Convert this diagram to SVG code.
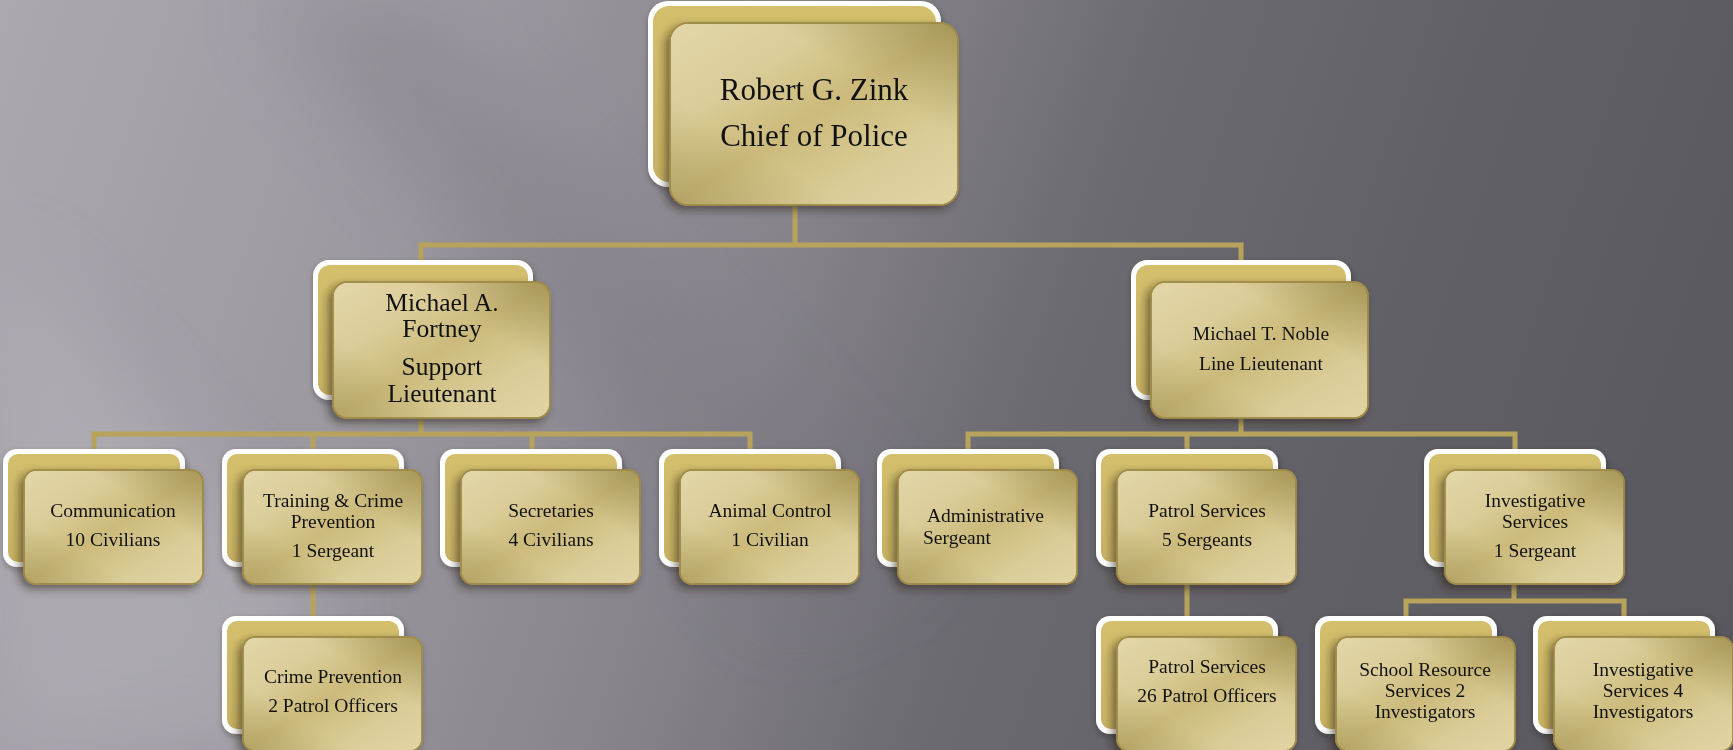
<svg xmlns="http://www.w3.org/2000/svg" width="1733" height="750" viewBox="0 0 1733 750">
<defs>
  <linearGradient id="bgG" x1="0" y1="0" x2="1733" y2="600" gradientUnits="userSpaceOnUse">
    <stop offset="0" stop-color="#aba8af"/>
    <stop offset="0.25" stop-color="#9b98a0"/>
    <stop offset="0.45" stop-color="#86838b"/>
    <stop offset="0.6" stop-color="#6d6b72"/>
    <stop offset="0.8" stop-color="#615f66"/>
    <stop offset="1" stop-color="#5a585f"/>
  </linearGradient>
  <linearGradient id="fg" x1="0" y1="0" x2="1" y2="1">
    <stop offset="0" stop-color="#e3d7a9"/>
    <stop offset="0.28" stop-color="#dbcd99"/>
    <stop offset="0.5" stop-color="#cbba7a"/>
    <stop offset="0.75" stop-color="#dacc97"/>
    <stop offset="1" stop-color="#e2d5a5"/>
  </linearGradient>
  <linearGradient id="fo" x1="1" y1="0" x2="0" y2="1">
    <stop offset="0" stop-color="#7a6a2c" stop-opacity="0.45"/>
    <stop offset="0.32" stop-color="#7a6a2c" stop-opacity="0"/>
    <stop offset="0.7" stop-color="#7a6a2c" stop-opacity="0"/>
    <stop offset="1" stop-color="#7a6a2c" stop-opacity="0.3"/>
  </linearGradient>
  <linearGradient id="bk" x1="0" y1="0" x2="0" y2="1">
    <stop offset="0" stop-color="#d3bf6c"/>
    <stop offset="1" stop-color="#c8b264"/>
  </linearGradient>
  <filter id="sh" x="-20%" y="-20%" width="140%" height="140%">
    <feDropShadow dx="-4" dy="4" stdDeviation="4" flood-color="#2b2410" flood-opacity="0.55"/>
  </filter>
  <filter id="shb" x="-20%" y="-20%" width="140%" height="140%">
    <feDropShadow dx="1" dy="3" stdDeviation="3" flood-color="#222" flood-opacity="0.35"/>
  </filter>
  <filter id="blur" x="-50%" y="-50%" width="200%" height="200%">
    <feGaussianBlur stdDeviation="40"/>
  </filter>
  <g id="card">
    <rect class="bw" x="0" y="0" width="182" height="118" rx="14"/>
    <rect class="bg" x="5" y="5" width="172" height="108" rx="10"/>
    <rect class="fr" x="21" y="21" width="179" height="114" rx="12"/>
    <rect class="ov" x="21" y="21" width="179" height="114" rx="12"/>
  </g>
  <g id="lcard">
    <rect class="bw" x="0" y="0" width="220" height="140" rx="16"/>
    <rect class="bg" x="5" y="5" width="210" height="130" rx="12"/>
    <rect class="fr" x="20" y="22" width="217" height="136" rx="14"/>
    <rect class="ov" x="20" y="22" width="217" height="136" rx="14"/>
  </g>
  <style>
    .bw { fill: #ffffff; filter: url(#shb); }
    .bg { fill: url(#bk); }
    .fr { fill: url(#fg); stroke: #a08c48; stroke-width: 1.5; filter: url(#sh); }
    .ov { fill: url(#fo); stroke: #a08c48; stroke-width: 1.5; }
    text { font-family: "Liberation Serif", "Times New Roman", serif; fill: #111111; text-anchor: middle; }
    .t1 { font-size: 31px; }
    .t2 { font-size: 25.5px; }
    .t3 { font-size: 19.5px; }
    .t4 { font-size: 19.5px; }
    .st { text-anchor: start; }
    .ln { fill: none; stroke: #b7a35c; stroke-width: 5; }
  </style>
</defs>

<rect x="0" y="0" width="1733" height="750" fill="url(#bgG)"/>
<g opacity="0.5" filter="url(#blur)">
  <polygon points="0,250 320,600 260,750 0,750" fill="#b8b5bc"/>
  <polygon points="260,0 420,0 920,560 780,620" fill="#76737b" opacity="0.6"/>
</g>

<g id="connectors">
  <path class="ln" d="M795 205 V245 M421 262 V245 H1241 V262 M421 418 V434 M94 450 V434 H750 V450 M313 434 V450 M532 434 V450 M1241 418 V434 M968 450 V434 H1515 V450 M1187 434 V450 M313 584 V617 M1187 584 V617 M1514 584 V601 M1406 617 V601 H1624 V617"/>
</g>

<g id="chief" transform="translate(648,1)">
  <rect class="bw" x="0" y="0" width="293" height="186" rx="20"/>
  <rect class="bg" x="5" y="5" width="283" height="176" rx="16"/>
  <rect class="fr" x="22" y="22" width="288" height="182" rx="18"/>
  <rect class="ov" x="22" y="22" width="288" height="182" rx="18"/>
  <text class="t1" x="166" y="99">Robert G. Zink</text>
  <text class="t1" x="166" y="145">Chief of Police</text>
</g>

<g id="fortney" transform="translate(313,260)">
  <use href="#lcard"/>
  <text class="t2" x="129" y="51">Michael A.</text>
  <text class="t2" x="129" y="77">Fortney</text>
  <text class="t2" x="129" y="115">Support</text>
  <text class="t2" x="129" y="142">Lieutenant</text>
</g>

<g id="noble" transform="translate(1131,260)">
  <use href="#lcard"/>
  <text class="t3" x="130" y="80">Michael T. Noble</text>
  <text class="t3" x="130" y="110">Line Lieutenant</text>
</g>

<g id="communication" transform="translate(3,449)">
  <use href="#card"/>
  <text class="t4" x="110" y="68">Communication</text>
  <text class="t4" x="110" y="97">10 Civilians</text>
</g>

<g id="training" transform="translate(222,449)">
  <use href="#card"/>
  <text class="t4" x="111" y="58">Training &amp; Crime</text>
  <text class="t4" x="111" y="79">Prevention</text>
  <text class="t4" x="111" y="108">1 Sergeant</text>
</g>

<g id="secretaries" transform="translate(440,449)">
  <use href="#card"/>
  <text class="t4" x="111" y="68">Secretaries</text>
  <text class="t4" x="111" y="97">4 Civilians</text>
</g>

<g id="animal" transform="translate(659,449)">
  <use href="#card"/>
  <text class="t4" x="111" y="68">Animal Control</text>
  <text class="t4" x="111" y="97">1 Civilian</text>
</g>

<g id="administrative" transform="translate(877,449)">
  <use href="#card"/>
  <text class="t4 st" x="50" y="73">Administrative</text>
  <text class="t4 st" x="46" y="95">Sergeant</text>
</g>

<g id="patrol" transform="translate(1096,449)">
  <use href="#card"/>
  <text class="t4" x="111" y="68">Patrol Services</text>
  <text class="t4" x="111" y="97">5 Sergeants</text>
</g>

<g id="investigative" transform="translate(1424,449)">
  <use href="#card"/>
  <text class="t4" x="111" y="58">Investigative</text>
  <text class="t4" x="111" y="79">Services</text>
  <text class="t4" x="111" y="108">1 Sergeant</text>
</g>

<g id="crime-prevention" transform="translate(222,616)">
  <use href="#card"/>
  <text class="t4" x="111" y="67">Crime Prevention</text>
  <text class="t4" x="111" y="96">2 Patrol Officers</text>
</g>

<g id="patrol-officers" transform="translate(1096,616)">
  <use href="#card"/>
  <text class="t4" x="111" y="57">Patrol Services</text>
  <text class="t4" x="111" y="86">26 Patrol Officers</text>
</g>

<g id="school-resource" transform="translate(1315,616)">
  <use href="#card"/>
  <text class="t4" x="110" y="60">School Resource</text>
  <text class="t4" x="110" y="81">Services 2</text>
  <text class="t4" x="110" y="102">Investigators</text>
</g>

<g id="investigators" transform="translate(1533,616)">
  <use href="#card"/>
  <text class="t4" x="110" y="60">Investigative</text>
  <text class="t4" x="110" y="81">Services 4</text>
  <text class="t4" x="110" y="102">Investigators</text>
</g>
</svg>
